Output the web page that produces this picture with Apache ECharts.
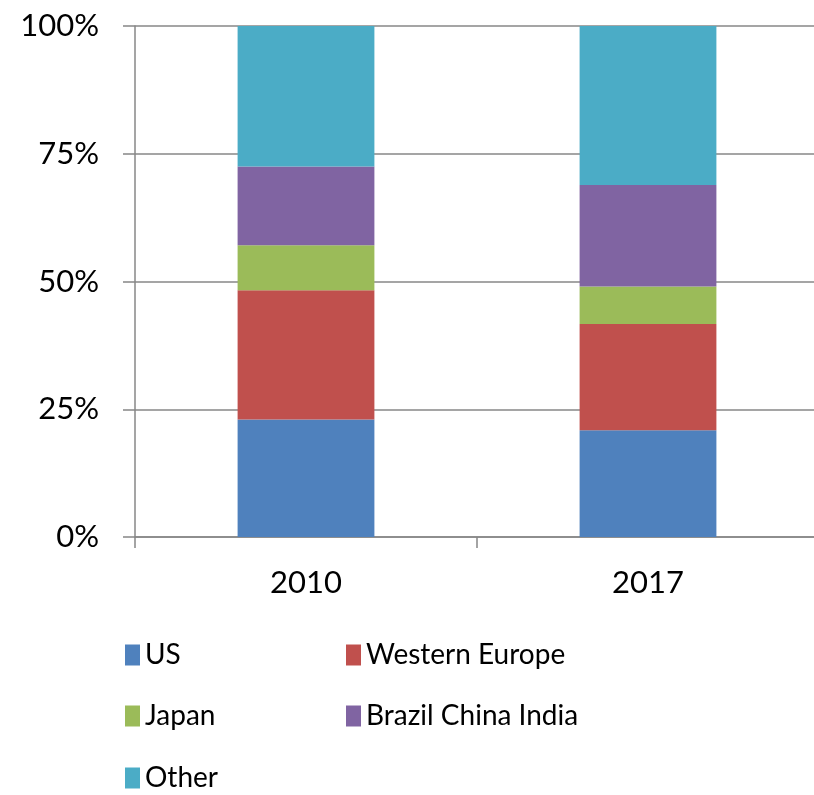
<!DOCTYPE html>
<html>
<head>
<meta charset="utf-8">
<script src="https://cdn.jsdelivr.net/npm/echarts@6/dist/echarts.min.js"></script>
<style>
  html, body { margin: 0; padding: 0; background: #fff; overflow: hidden; }
  #chart { width: 830px; height: 795px; }
</style>
</head>
<body>
<div id="chart"></div>
<script>
// Share of total by region, 2010 vs 2017 (percent, stacked to 100)
const years = ['2010', '2017'];
const us = [23.0, 20.9];
const westernEurope = [25.3, 20.8];
const japan = [8.8, 7.3];
const brazilChinaIndia = [15.4, 19.9];
const other = [27.5, 31.1];
const yTicks = [0, 25, 50, 75, 100];

const seriesDefs = [
  { name: 'US', data: us, color: '#4F81BD' },
  { name: 'Western Europe', data: westernEurope, color: '#C0504D' },
  { name: 'Japan', data: japan, color: '#9BBB59' },
  { name: 'Brazil China India', data: brazilChinaIndia, color: '#8064A2' },
  { name: 'Other', data: other, color: '#4BACC6' }
];

const font = 'Lato, "Open Sans", sans-serif';
const axisGray = '#878787';

// Legend laid out as a two-column grid, one legend box per entry
const legendCols = [125, 346];
const legendRows = [641, 702, 764];
const legends = seriesDefs.map((s, i) => ({
  left: legendCols[i % 2],
  top: legendRows[Math.floor(i / 2)],
  data: [s.name],
  icon: 'rect',
  padding: 0,
  itemWidth: 15,
  itemHeight: 21,
  textStyle: { fontFamily: font, fontSize: 28, lineHeight: 21, color: '#000' },
  selectedMode: false
}));

const chart = echarts.init(document.getElementById('chart'), null, { renderer: 'canvas' });
chart.setOption({
  animation: false,
  backgroundColor: '#fff',
  grid: { left: 135, top: 26, width: 684, height: 511 },
  legend: legends,
  xAxis: {
    type: 'category',
    data: years,
    boundaryGap: true,
    axisLine: { lineStyle: { color: axisGray, width: 1.5 } },
    axisTick: { show: true, length: 11, lineStyle: { color: axisGray, width: 1.5 } },
    axisLabel: { fontFamily: font, fontSize: 31, color: '#000', margin: 30 }
  },
  yAxis: {
    type: 'value',
    min: yTicks[0],
    max: yTicks[yTicks.length - 1],
    interval: yTicks[1] - yTicks[0],
    axisLine: { show: true, lineStyle: { color: axisGray, width: 1.5 } },
    axisTick: { show: true, length: 12, lineStyle: { color: axisGray, width: 1.5 } },
    splitLine: { show: true, lineStyle: { color: axisGray, width: 1.5 } },
    axisLabel: { fontFamily: font, fontSize: 31, color: '#000', margin: 36, formatter: '{value}%' }
  },
  series: seriesDefs.map(s => ({
    name: s.name,
    type: 'bar',
    stack: 'total',
    barWidth: '40%',
    data: s.data,
    itemStyle: { color: s.color },
    emphasis: { disabled: true }
  }))
});
</script>
</body>
</html>
